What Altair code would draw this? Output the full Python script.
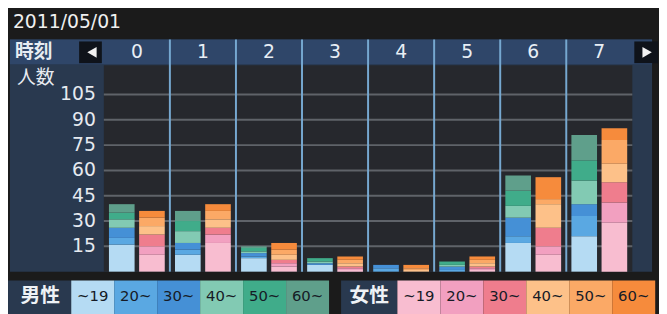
import altair as alt
import pandas as pd

date_label = "2011/05/01"
hours = [0, 1, 2, 3, 4, 5, 6, 7]
ages = ["~19", "20~", "30~", "40~", "50~", "60~"]
sexes = ["男性", "女性"]
y_ticks = [15, 30, 45, 60, 75, 90, 105]

# counts per age band, one value per hour (0..7)
male_19 = [16, 10, 8, 4, 0, 0, 17, 21]
male_20 = [4, 3, 1, 0, 2, 1, 4, 12]
male_30 = [6, 4, 2, 1, 2, 2, 11, 7]
male_40 = [5, 7, 1, 1, 0, 1, 7, 14]
male_50 = [4, 6, 2, 2, 0, 2, 9, 12]
male_60 = [5, 6, 1, 0, 0, 0, 9, 15]

female_19 = [10, 17, 3, 1, 0, 1, 10, 29]
female_20 = [5, 5, 2, 1, 0, 1, 5, 12]
female_30 = [7, 4, 2, 1, 0, 1, 11, 12]
female_40 = [5, 5, 3, 2, 1, 2, 14, 11]
female_50 = [5, 5, 3, 2, 1, 2, 3, 14]
female_60 = [4, 4, 4, 2, 2, 2, 13, 7]

male_colors = ["#b5dbf3", "#5aa8e2", "#4590d6", "#82cab3", "#40ac8a", "#5f9f8b"]
female_colors = ["#f8bdd0", "#f2a0c0", "#ef7d8d", "#fdc189", "#fba966", "#f68b3c"]

male_series = [male_19, male_20, male_30, male_40, male_50, male_60]
female_series = [female_19, female_20, female_30, female_40, female_50, female_60]

rows = []
for sex, series in (("男性", male_series), ("女性", female_series)):
    for k, (age, vals) in enumerate(zip(ages, series)):
        for h, c in zip(hours, vals):
            rows.append(dict(hour=h, sex=sex, age=age, k=k, count=c, key=sex + age))
df = pd.DataFrame(rows)

keys = ["男性" + a for a in ages] + ["女性" + a for a in ages]
color_scale = alt.Scale(domain=keys, range=male_colors + female_colors)

W, H = 535, 209
one = pd.DataFrame({"d": [0]})
JP = "Noto Sans CJK JP"
NUM = "DejaVu Sans"


def box(x, x2, y, y2, color):
    return alt.Chart(one).mark_rect(color=color).encode(
        x=alt.value(x), x2=alt.value(x2), y=alt.value(y), y2=alt.value(y2)
    )


def label(text, x, y, size, color, font=JP, weight="normal", align="left"):
    return alt.Chart(one).mark_text(
        text=text, align=align, baseline="middle", fontSize=size,
        color=color, font=font, fontWeight=weight
    ).encode(x=alt.value(x), y=alt.value(y))


yscale = alt.Scale(domain=[0, 122.4], nice=False, zero=True)

panel = box(-95, W + 20, -26, H, "#29394f")
header = box(-95, W + 20, -26, -1, "#2f4669")
plot_bg = box(0, W, 0, H, "#26282d")

tick_df = pd.DataFrame({"v": y_ticks})
gridlines = alt.Chart(tick_df).mark_rule(
    color="#5f6369", strokeWidth=2
).encode(y=alt.Y("v:Q", scale=yscale, axis=None), x=alt.value(0), x2=alt.value(W))

ytick_labels = alt.Chart(tick_df).mark_text(
    align="right", baseline="middle", fontSize=19, font=NUM, color="#e6eaf0"
).encode(y=alt.Y("v:Q", scale=yscale, axis=None), x=alt.value(-8), text="v:Q")

xscale = alt.Scale(paddingInner=0, paddingOuter=0)

separators = alt.Chart(pd.DataFrame({"hour": hours[1:]})).mark_rule(
    color="#76a8d0", strokeWidth=2
).encode(
    x=alt.X("hour:O", bandPosition=0, scale=xscale, axis=None),
    y=alt.value(-26), y2=alt.value(H)
)

bars = alt.Chart(df).mark_bar().encode(
    x=alt.X("hour:O", scale=xscale, axis=None),
    xOffset=alt.XOffset("sex:N", sort=sexes,
                        scale=alt.Scale(domain=sexes, paddingInner=0.15, paddingOuter=0.17)),
    y=alt.Y("count:Q", stack="zero", scale=yscale, axis=None),
    color=alt.Color("key:N", scale=color_scale, legend=None),
    order=alt.Order("k:Q", sort="ascending"),
)

hour_labels = alt.Chart(pd.DataFrame({"hour": hours})).mark_text(
    fontSize=19, color="#e8eef5", font=NUM, baseline="middle"
).encode(x=alt.X("hour:O", scale=xscale, axis=None), text="hour:O", y=alt.value(-13))

left_btn = box(-25, -2, -24, -2, "#0f131a")
right_btn = box(537, 561, -24, -2, "#0f131a")
left_tri = alt.Chart(one).mark_point(shape="triangle-left", filled=True, color="#f2f2f2", size=120, opacity=1).encode(
    x=alt.value(-12), y=alt.value(-13))
right_tri = alt.Chart(one).mark_point(shape="triangle-right", filled=True, color="#f2f2f2", size=120, opacity=1).encode(
    x=alt.value(550), y=alt.value(-13))

title_txt = label(date_label, -92, -44, 19, "#f0f0f0", font=NUM)
time_txt = label("時刻", -90, -13, 19, "#e8ecf2", weight="bold")
count_txt = label("人数", -88, 13, 19, "#e8ecf2")

main = alt.layer(
    panel, header, plot_bg, gridlines, separators, bars, hour_labels, ytick_labels,
    left_btn, right_btn, left_tri, right_tri, title_txt, time_txt, count_txt
)

# ---- legend strip ----
leg_scale = alt.Scale(domain=[0, 10], range=[-33, 402], nice=False, zero=False)
legend_df = pd.DataFrame(
    [dict(sex=s, age=a, key=s + a, slot=i) for s in sexes for i, a in enumerate(ages)]
)
group_df = pd.DataFrame({"sex": sexes})

leg_base = alt.Chart(legend_df).transform_calculate(
    lx="datum.slot + (datum.sex == '女性' ? 7.59 : 0)",
    lx2="datum.slot + 1 + (datum.sex == '女性' ? 7.59 : 0)",
    lxm="datum.slot + 0.5 + (datum.sex == '女性' ? 7.59 : 0)",
)
leg_boxes = leg_base.mark_rect().encode(
    x=alt.X("lx:Q", scale=leg_scale, axis=None), x2="lx2:Q",
    y=alt.value(218), y2=alt.value(252),
    color=alt.Color("key:N", scale=color_scale, legend=None),
)
leg_text = leg_base.mark_text(fontSize=15, font=NUM, color="#161b26", baseline="middle").encode(
    x=alt.X("lxm:Q", scale=leg_scale, axis=None), y=alt.value(234), text="age:N"
)
grp_base = alt.Chart(group_df).transform_calculate(
    gx="datum.sex == '女性' ? 6.28 : -1.47",
    gx2="datum.sex == '女性' ? 7.59 : 0",
    gm="datum.sex == '女性' ? 6.935 : -0.72",
)
grp_boxes = grp_base.mark_rect(color="#29394f").encode(
    x=alt.X("gx:Q", scale=leg_scale, axis=None), x2="gx2:Q",
    y=alt.value(218), y2=alt.value(252),
)
grp_text = grp_base.mark_text(fontSize=20, font=JP, fontWeight="bold", color="#eef2f6", baseline="middle").encode(
    x=alt.X("gm:Q", scale=leg_scale, axis=None), y=alt.value(234), text="sex:N"
)
legend = alt.layer(grp_boxes, leg_boxes, grp_text, leg_text)

chart = alt.layer(main, legend).resolve_scale(x="independent").properties(
    width=W, height=H,
    autosize=alt.AutoSizeParams(type="none"),
    padding={"left": 97, "top": 56, "right": 27, "bottom": 41},
).configure(background="#1b1b1b").configure_view(stroke=None)

chart.save("out.html", embed_options={"renderer": "svg", "actions": False})
